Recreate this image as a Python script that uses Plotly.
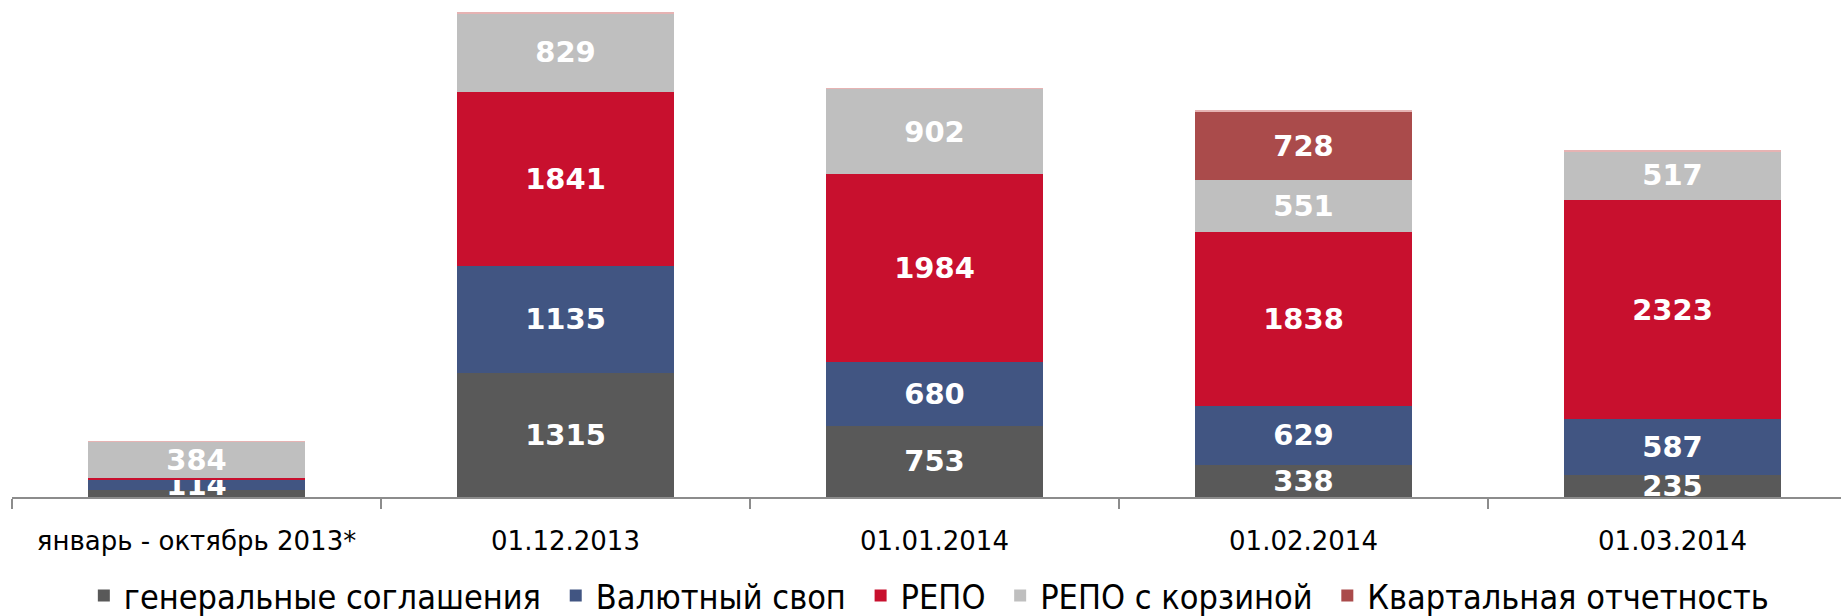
import plotly.graph_objects as go

categories = ["январь - октябрь 2013*", "01.12.2013", "01.01.2014", "01.02.2014", "01.03.2014"]

general = [75, 1315, 753, 338, 235]
general_lbl = ["", "1315", "753", "338", "235"]
swap = [114, 1135, 680, 629, 587]
swap_lbl = ["114", "1135", "680", "629", "587"]
repo = [10, 1841, 1984, 1838, 2323]
repo_lbl = ["", "1841", "1984", "1838", "2323"]
repo_basket = [384, 829, 902, 551, 517]
repo_basket_lbl = ["384", "829", "902", "551", "517"]
quarterly = [0, 0, 0, 728, 0]
quarterly_lbl = ["", "", "", "728", ""]
top_edge = [6, 6, 6, 6, 6]

NB = "\u00a0"
series = [
    ("генеральные соглашения" + NB, general, general_lbl, "#595959"),
    ("Валютный своп" + NB, swap, swap_lbl, "#415582"),
    ("РЕПО" + NB, repo, repo_lbl, "#c8102e"),
    ("РЕПО с корзиной" + NB, repo_basket, repo_basket_lbl, "#bfbfbf"),
    ("Квартальная отчетность", quarterly, quarterly_lbl, "#aa4b4b"),
]

fig = go.Figure()
for name, vals, lbl, col in series:
    fig.add_trace(go.Bar(
        x=categories, y=vals, name=name, text=lbl,
        marker=dict(color=col, line=dict(width=0)),
        textposition="inside", insidetextanchor="middle",
        constraintext="none", textangle=0, cliponaxis=False,
        textfont=dict(family="DejaVu Sans", size=29, color="white", weight="bold"),
        hoverinfo="skip",
    ))
fig.add_trace(go.Bar(
    x=categories, y=top_edge, showlegend=False,
    marker=dict(color="#e6b3b3", line=dict(width=0)), hoverinfo="skip",
))

fig.update_layout(
    barmode="stack",
    bargap=0.413,
    width=1841, height=616,
    margin=dict(l=12, r=0, t=0, b=119, autoexpand=False),
    paper_bgcolor="white", plot_bgcolor="white",
    font=dict(family="DejaVu Sans", color="black"),
    showlegend=True,
    hovermode=False,
    legend=dict(
        orientation="h", xref="container", yref="container",
        x=0.5048, xanchor="center", y=1 - 596 / 616, yanchor="middle",
        font=dict(family="DejaVu Sans Condensed", size=34, color="black"),
        traceorder="normal", itemwidth=30,
        bgcolor="rgba(0,0,0,0)",
    ),
)
fig.update_xaxes(
    range=[-0.5, -0.5 + 1829 / 369],
    showline=True, linecolor="#8c8c8c", linewidth=2,
    ticks="outside", tickson="boundaries", ticklen=10, tickwidth=2, tickcolor="#8c8c8c",
    ticklabelstandoff=20,
    tickfont=dict(family="DejaVu Sans", size=26, color="black"),
    showgrid=False, zeroline=False,
)
fig.update_yaxes(visible=False, range=[0, 5261], showgrid=False, zeroline=False)

fig.write_html(
    "out.html",
    config={"displayModeBar": False},
    post_script="document.body.style.margin='0px';document.body.style.overflow='hidden';",
)
